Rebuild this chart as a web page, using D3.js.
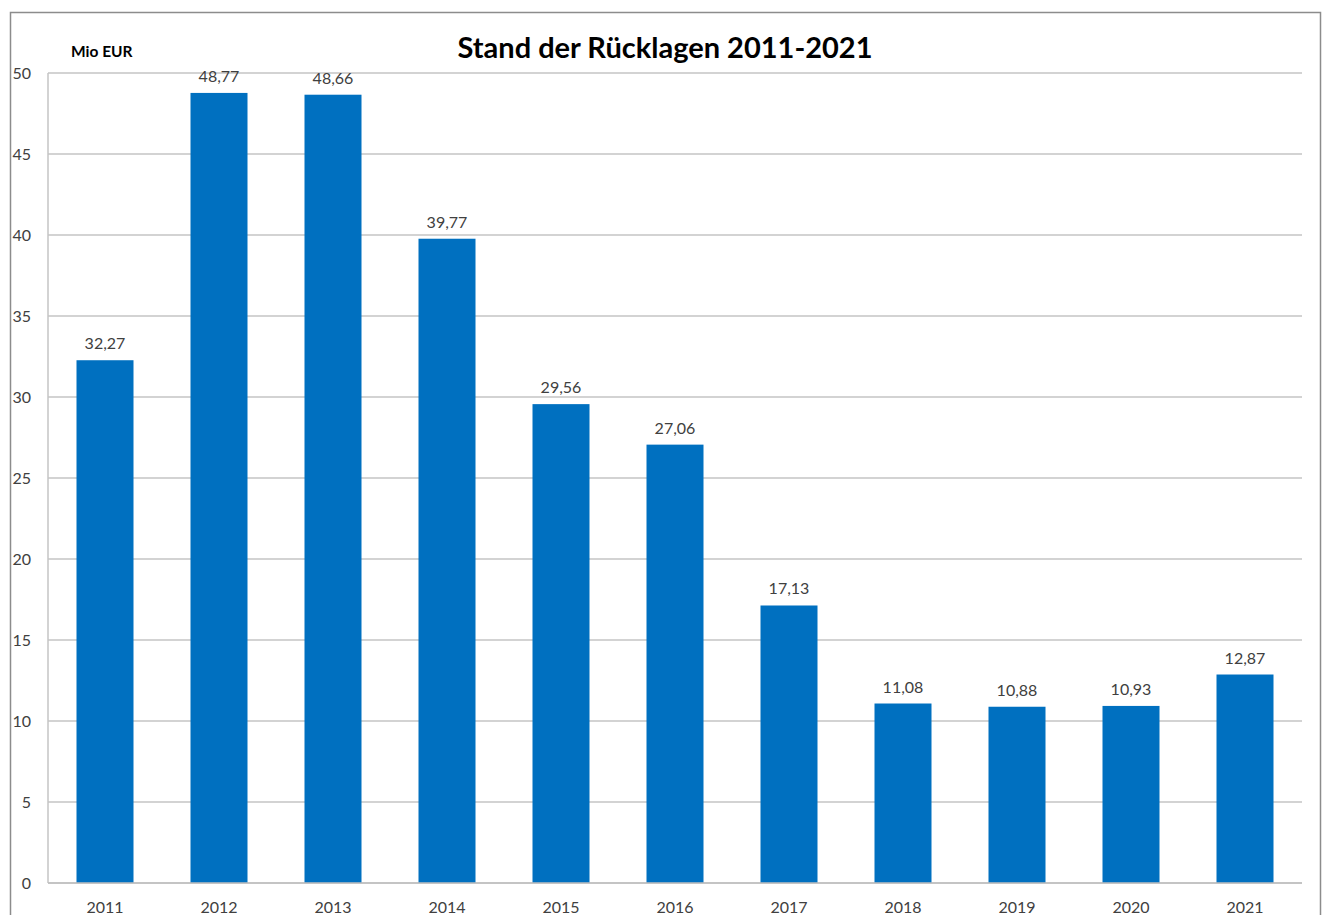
<!DOCTYPE html>
<html>
<head>
<meta charset="utf-8">
<script src="https://cdn.jsdelivr.net/npm/d3@7"></script>
<style>
  body { margin: 0; background: #fff; }
  text { font-family: Lato, "Open Sans", sans-serif; }
</style>
</head>
<body>
<div id="graphic"></div>
<script>
const years = ["2011", "2012", "2013", "2014", "2015", "2016", "2017", "2018", "2019", "2020", "2021"]
const values = [32.27, 48.77, 48.66, 39.77, 29.56, 27.06, 17.13, 11.08, 10.88, 10.93, 12.87]
const yTicks = [0, 5, 10, 15, 20, 25, 30, 35, 40, 45, 50]

const chartWidth = 1327
const chartHeight = 915
const margin = { top: 73, right: 25, bottom: 32, left: 48 }
const width = chartWidth - margin.left - margin.right
const height = chartHeight - margin.top - margin.bottom

let svg = d3.select("#graphic").append("svg")
    .attr("width", chartWidth)
    .attr("height", chartHeight)

// outer frame
svg.append("path")
    .attr("d", "M10.5,915 V12.5 H1320.5 V915")
    .attr("fill", "none")
    .attr("stroke", "#8c8c8c")
    .attr("stroke-width", 1.5)

let g = svg.append("g")
    .attr("transform", "translate(" + margin.left + "," + margin.top + ")")

let x = d3.scaleBand()
    .domain(years)
    .range([0, width])
    .paddingInner(0.5)
    .paddingOuter(0.25)

let y = d3.scaleLinear()
    .domain([0, 50])
    .range([height, 0])

// gridlines
g.selectAll(null)
    .data(yTicks)
    .enter().append("line")
    .attr("x1", 0)
    .attr("x2", width)
    .attr("y1", d => y(d))
    .attr("y2", d => y(d))
    .attr("stroke", "#c4c4c4")
    .attr("stroke-width", 1.5)

// left axis line
g.append("line")
    .attr("x1", 0).attr("x2", 0)
    .attr("y1", 0).attr("y2", height)
    .attr("stroke", "#c4c4c4")
    .attr("stroke-width", 1.5)

// y tick labels
g.selectAll(null)
    .data(yTicks)
    .enter().append("text")
    .attr("x", -17)
    .attr("y", d => y(d) + 6)
    .attr("text-anchor", "end")
    .attr("font-size", 16)
    .attr("fill", "#404040")
    .text(d => d)

// bars
g.selectAll(null)
    .data(values)
    .enter().append("rect")
    .attr("x", (d, i) => x(years[i]))
    .attr("y", d => y(d))
    .attr("width", x.bandwidth())
    .attr("height", d => height - y(d))
    .attr("fill", "#0070c0")

// bottom axis line on top of bars
g.append("line")
    .attr("x1", 0).attr("x2", width)
    .attr("y1", height).attr("y2", height)
    .attr("stroke", "#bfbfbf")
    .attr("stroke-width", 1.5)

// value labels
g.selectAll(null)
    .data(values)
    .enter().append("text")
    .attr("x", (d, i) => x(years[i]) + x.bandwidth() / 2)
    .attr("y", d => y(d) - 11)
    .attr("text-anchor", "middle")
    .attr("font-size", 16)
    .attr("fill", "#404040")
    .text(d => d.toFixed(2).replace(".", ","))

// x labels
g.selectAll(null)
    .data(years)
    .enter().append("text")
    .attr("x", d => x(d) + x.bandwidth() / 2)
    .attr("y", height + 30)
    .attr("text-anchor", "middle")
    .attr("font-size", 16)
    .attr("fill", "#404040")
    .text(d => d)

// title
svg.append("text")
    .attr("x", 665)
    .attr("y", 58)
    .attr("text-anchor", "middle")
    .attr("font-size", 29)
    .attr("font-weight", "bold")
    .attr("fill", "#000")
    .text("Stand der Rücklagen 2011-2021")

// unit label
svg.append("text")
    .attr("x", 71)
    .attr("y", 57)
    .attr("font-size", 15.5)
    .attr("font-weight", "bold")
    .attr("fill", "#000")
    .text("Mio EUR")
</script>
</body>
</html>
